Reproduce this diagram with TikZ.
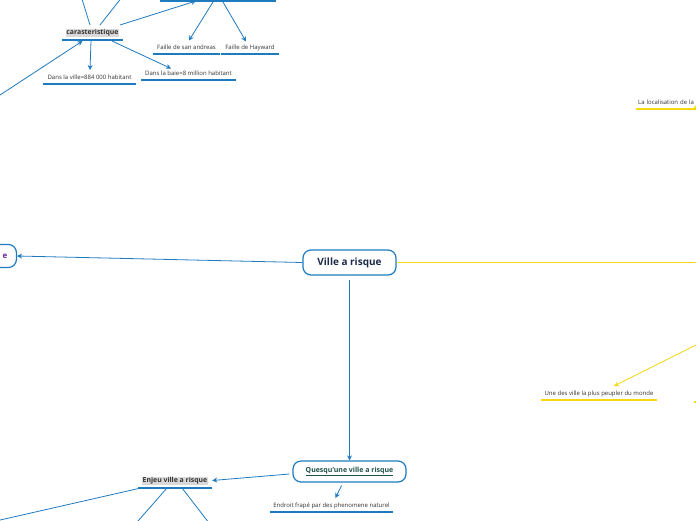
\documentclass[tikz,border=0pt]{standalone}
\usepackage{fontspec}
\setmainfont{Open Sans}
\usetikzlibrary{arrows.meta,calc}
\definecolor{mblue}{HTML}{1F7BC0}
\definecolor{myellow}{HTML}{F5D90F}
\definecolor{txt}{HTML}{333333}
\definecolor{navy}{HTML}{1C2A4A}
\definecolor{qgreen}{HTML}{1E5248}
\definecolor{lpurple}{HTML}{6A2C8F}
\definecolor{hl}{HTML}{D9D9D9}
\newcommand{\hlbox}[1]{{\setlength{\fboxsep}{0.6pt}\colorbox{hl}{#1}}}
\begin{document}
\begin{tikzpicture}[x=1pt,y=-1pt,
  topic/.style={font=\fontsize{6}{7}\selectfont, text=txt, inner xsep=0pt, inner ysep=4.6pt,
                text height=4.4pt, text depth=0pt, anchor=south},
  btopic/.style={topic, font=\fontsize{6.9}{8}\bfseries\selectfont, text height=5pt, text depth=1.2pt, inner ysep=4.2pt},
  mainbox/.style={draw=mblue, line width=1.2pt, rounded corners=8pt, fill=white,
                  font=\fontsize{10}{12}\bfseries\selectfont, text=navy},
  bul/.style={draw=mblue, line width=1.2pt},
  yul/.style={draw=myellow, line width=1.2pt},
  bcon/.style={draw=mblue, line width=0.8pt},
  barrow/.style={bcon, -{Stealth[length=5pt,width=5pt]}},
  ycon/.style={draw=myellow, line width=0.8pt},
  yarrow/.style={ycon, -{Stealth[length=5pt,width=5pt]}}
]
\useasboundingbox (0,0) rectangle (696,520);
\clip (0,0) rectangle (696,520);
\fill[white] (0,0) rectangle (696,520);

% main nodes
\node[mainbox, minimum width=93pt, minimum height=25pt] (ville) at (349.5,262.5) {Ville a risque};
\node[mainbox, anchor=east, text width=45pt, align=right, inner xsep=9pt, minimum height=23pt, text=lpurple, font=\fontsize{8}{10}\bfseries\selectfont] (lft) at (17,256) {e};
\node[mainbox, minimum width=113pt, minimum height=21pt, text=qgreen, font=\fontsize{7}{8}\bfseries\selectfont] (ques) at (349.5,471.5) {\underline{Quesqu'une ville a risque}};

% topics
\node[btopic, minimum width=61pt] (car) at (92.5,40) {\hlbox{carasteristique}};
\node[topic, minimum width=93pt] (dv) at (89.5,84) {Dans la ville=884 000 habitant};
\node[topic, minimum width=95pt] (db) at (188.5,80) {Dans la baie=8 million habitant};
\node[topic, minimum width=116pt] (top) at (218,1) {};
\node[topic, minimum width=67pt] (fsa) at (186.5,54) {Faille de san andreas};
\node[topic, minimum width=58pt] (fh) at (250,54) {Faille de Hayward};
\node[btopic, minimum width=74pt] (enjeu) at (175,488) {\hlbox{Enjeu ville a risque}};
\node[topic, minimum width=123pt] (endroit) at (331.5,512) {Endroit frapé par des phenomene naturel};
\node[topic, minimum width=116pt] (une) at (599,400) {Une des ville la plus peupler du monde};
\node[topic, anchor=south west, text width=78pt, align=left, inner xsep=2pt] (loc) at (636,109) {La localisation de la};

% underlines
\foreach \n in {car,dv,db,top,fsa,fh,enjeu,endroit}{\draw[bul] (\n.south west) -- (\n.south east);}
\foreach \n in {une,loc}{\draw[yul] (\n.south west) -- (\n.south east);}

% free ends
\coordinate (c0) at (0,95);
\coordinate (c1) at (82,-1);
\coordinate (c2) at (120.5,-1);
\coordinate (e1) at (-2,520.5);
\coordinate (e2) at (138,521);
\coordinate (e3) at (207.5,521);
\coordinate (r1) at (700,262.5);
\coordinate (r2) at (698,344);
\coordinate (r3) at (722,95);
\coordinate (r4a) at (694,402);
\coordinate (r4b) at (702,402);

% blue connectors
\draw[barrow] (ville.west) -- (lft.east);
\draw[barrow, shorten <=4pt] (ville.south) -- (ques.north);
\draw[barrow] ($(ques.west)+(-3,2.5)$) -- (enjeu.east);
\draw[barrow] ($(ques.south)+(-8,3)$) -- ($(endroit.north)+(4,0)$);
\draw[bcon] ($(enjeu.south west)+(3,0)$) -- (e1);
\draw[bcon] ($(enjeu.south)+(-8,0)$) -- (e2);
\draw[bcon] ($(enjeu.south)+(7,0)$) -- (e3);
\draw[barrow] ($(car.south)+(-1.5,1)$) -- ($(dv.north)+(0.5,0)$);
\draw[barrow] ($(car.south)+(19.5,1)$) -- ($(db.north)+(-17.5,2.5)$);
\draw[barrow] (c0) -- ($(car.south)+(-10,1)$);
\draw[bcon] ($(car.north)+(-2.5,0)$) -- (c1);
\draw[bcon] ($(car.north)+(7.5,0)$) -- (c2);
\draw[barrow] ($(car.north)+(27.5,0)$) -- ($(top.south)+(-22,0)$);
\draw[barrow] ($(top.south)+(-5,1)$) -- ($(fsa.north)+(2.5,0.5)$);
\draw[barrow] ($(top.south)+(5,1)$) -- ($(fh.north)+(-4,1.5)$);

% yellow connectors
\draw[ycon] (ville.east) -- (r1);
\draw[yarrow] (r2) -- ($(une.north)+(15,0)$);
\draw[yarrow] (r3) -- ($(loc.south west)+(57,0)$);
\draw[yul] (r4a) -- (r4b);
\end{tikzpicture}
\end{document}
